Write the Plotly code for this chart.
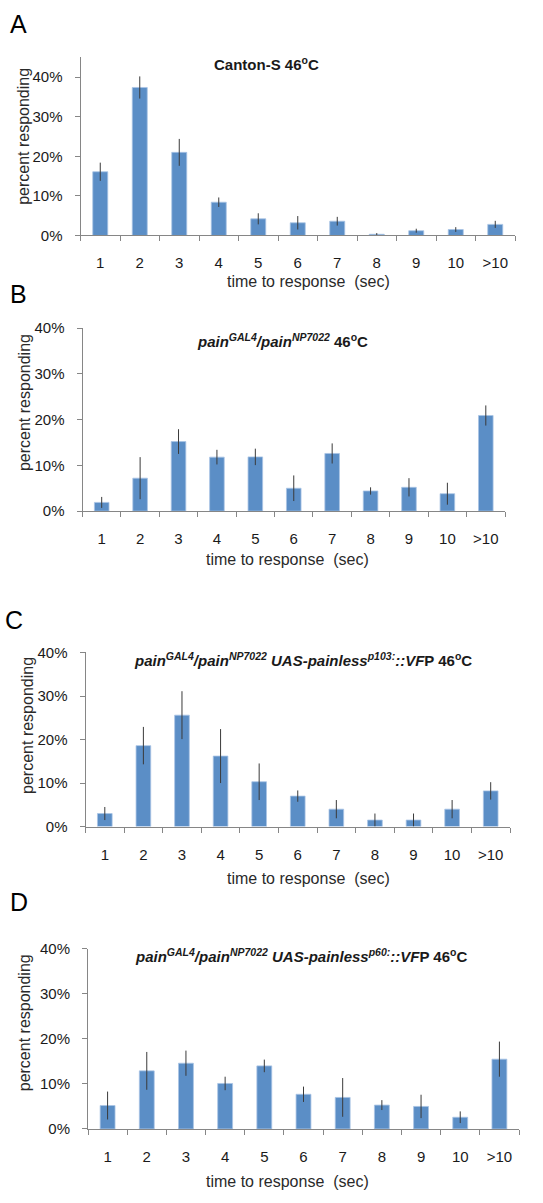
import plotly.graph_objects as go

W, H = 543, 1203

categories = ["1", "2", "3", "4", "5", "6", "7", "8", "9", "10", ">10"]
y_ticks = [0, 10, 20, 30, 40]
y_ticktext = ["0%", "10%", "20%", "30%", "40%"]

a_vals = [16.1, 37.4, 21.0, 8.4, 4.2, 3.2, 3.6, 0.3, 1.2, 1.5, 2.8]
a_err = [2.3, 2.8, 3.4, 1.2, 1.4, 1.7, 1.1, 0.3, 0.5, 0.6, 0.9]

b_vals = [1.9, 7.2, 15.2, 11.8, 11.85, 5.0, 12.6, 4.4, 5.2, 3.8, 20.9]
b_err = [1.2, 4.6, 2.7, 1.6, 1.8, 2.8, 2.2, 0.8, 2.0, 2.4, 2.2]

c_vals = [3.0, 18.6, 25.6, 16.2, 10.3, 7.0, 4.0, 1.5, 1.5, 4.0, 8.2]
c_err = [1.5, 4.3, 5.5, 6.2, 4.2, 1.3, 2.1, 1.5, 1.5, 2.1, 2.0]

d_vals = [5.2, 12.9, 14.6, 10.1, 14.0, 7.7, 7.0, 5.3, 5.0, 2.6, 15.5]
d_err = [3.1, 4.2, 2.8, 1.5, 1.4, 1.7, 4.3, 1.1, 2.6, 1.3, 3.9]

titles = [
    "<b>Canton-S 46<sup>o</sup>C</b>",
    "<b><i>pain<sup>GAL4</sup>/pain<sup>NP7022</sup></i> 46<sup>o</sup>C</b>",
    "<b><i>pain<sup>GAL4</sup>/pain<sup>NP7022</sup> UAS-painless<sup>p103:</sup>::VF</i>P 46<sup>o</sup>C</b>",
    "<b><i>pain<sup>GAL4</sup>/pain<sup>NP7022</sup> UAS-painless<sup>p60:</sup>::VF</i>P 46<sup>o</sup>C</b>",
]
letters = ["A", "B", "C", "D"]
y_title = "percent responding"
x_title = "time to response  (sec)"

series = [(a_vals, a_err), (b_vals, b_err), (c_vals, c_err), (d_vals, d_err)]

# pixel layout for each panel: (x0, x1, ytop, ybottom, ymax)
panels = [
    (80.5, 515, 49.1, 229.7, 45),
    (82.5, 505, 323.7, 509.3, 40),
    (85.5, 510, 652.7, 829.3, 40),
    (88, 519, 953.3, 1136, 40),
]
# annotation positions (pixels)
title_pos = [(266, 55.3), (282, 336.7), (303, 660), (301, 960)]
letter_pos = [(18.3, 15.5), (18, 289), (14, 620), (19, 906.3)]
ytitle_pos = [(24, 129.7), (24, 399.7), (27.5, 726.7), (24, 1028.8)]
xtitle_pos = [(308, 276.7), (287, 558.3), (308, 881.7), (287, 1189.3)]

FONT = "Liberation Sans, Arial, sans-serif"
BAR = "#5b8ec6"
AXIS = "#868686"
TXT = "#1a1a1a"

def px(x):
    return x / W

def py(y):
    return 1 - y / H

fig = go.Figure()
layout = dict(
    width=W, height=H,
    margin=dict(l=0, r=0, t=0, b=0),
    paper_bgcolor="white", plot_bgcolor="white",
    showlegend=False, bargap=0.62,
    font=dict(family=FONT, color=TXT, size=15),
    annotations=[],
)

for i, ((vals, err), (x0, x1, yt, yb, ymax)) in enumerate(zip(series, panels)):
    n = "" if i == 0 else str(i + 1)
    fig.add_trace(go.Bar(
        x=categories, y=vals,
        marker=dict(color=BAR, line=dict(color="#a9c4e4", width=0.8)),
        error_y=dict(type="data", array=err, color="#3a3a3a", thickness=1, width=0),
        xaxis="x" + n, yaxis="y" + n,
    ))
    layout["xaxis" + n] = dict(
        domain=[px(x0), px(x1)], anchor="y" + n, type="category",
        showline=True, linecolor=AXIS, linewidth=1,
        ticks="outside", tickson="boundaries", ticklen=5, tickcolor=AXIS,
        showgrid=False, zeroline=False, tickfont=dict(size=15, color=TXT),
        ticklabelstandoff=14,
    )
    layout["yaxis" + n] = dict(
        domain=[py(yb), py(yt)], anchor="x" + n, range=[0, ymax],
        tickmode="array", tickvals=y_ticks, ticktext=y_ticktext,
        showline=True, linecolor=AXIS, linewidth=1,
        ticks="outside", ticklen=5, tickcolor=AXIS,
        showgrid=False, zeroline=False, tickfont=dict(size=15, color=TXT),
        ticklabelstandoff=9,
    )
    tx, ty = title_pos[i]
    layout["annotations"].append(dict(
        text=titles[i], x=px(tx), y=py(ty), xref="paper", yref="paper",
        xanchor="center", yanchor="middle", showarrow=False,
        font=dict(size=15, color=TXT, family=FONT),
    ))
    lx, ly = letter_pos[i]
    layout["annotations"].append(dict(
        text=letters[i], x=px(lx), y=py(ly), xref="paper", yref="paper",
        xanchor="center", yanchor="middle", showarrow=False,
        font=dict(size=25, color="black", family=FONT),
    ))
    yx, yy = ytitle_pos[i]
    layout["annotations"].append(dict(
        text=y_title, x=px(yx), y=py(yy), xref="paper", yref="paper",
        xanchor="center", yanchor="middle", showarrow=False, textangle=-90,
        font=dict(size=16, color="#2a2a2a", family=FONT),
    ))
    xx, xy = xtitle_pos[i]
    layout["annotations"].append(dict(
        text=x_title, x=px(xx), y=py(xy), xref="paper", yref="paper",
        xanchor="center", yanchor="middle", showarrow=False,
        font=dict(size=16, color="#2a2a2a", family=FONT),
    ))

fig.update_layout(**layout)
fig.write_html(
    "out.html",
    config={"displayModeBar": False},
    post_script="document.body.style.margin='0px';",
)
